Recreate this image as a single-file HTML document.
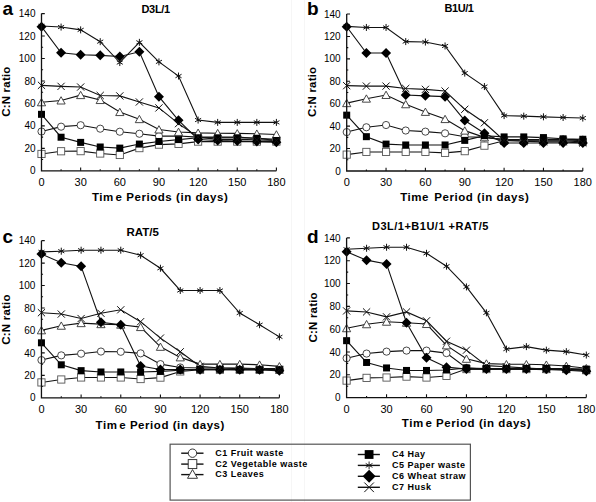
<!DOCTYPE html>
<html><head><meta charset="utf-8"><style>
html,body{margin:0;padding:0;background:#fff;}
svg{display:block;}
text{font-family:"Liberation Sans", sans-serif;fill:#000;}
svg{}
</style></head><body>
<svg width="596" height="502" viewBox="0 0 596 502">
<rect width="596" height="502" fill="#fff"/>
<path d="M291.5,0V502M304.5,0V502" stroke="#f6f6f6" stroke-width="1"/>
<path d="M41.50,159.57h1.6M41.50,148.34h3.3M41.50,137.11h1.6M41.50,125.89h3.3M41.50,114.66h1.6M41.50,103.43h3.3M41.50,92.20h1.6M41.50,80.97h3.3M41.50,69.74h1.6M41.50,58.51h3.3M41.50,47.29h1.6M41.50,36.06h3.3M41.50,24.83h1.6M41.50,13.60h3.3M61.08,170.80v-1.6M80.65,170.80v-3.3M100.22,170.80v-1.6M119.80,170.80v-3.3M139.38,170.80v-1.6M158.95,170.80v-3.3M178.53,170.80v-1.6M198.10,170.80v-3.3M217.67,170.80v-1.6M237.25,170.80v-3.3M256.82,170.80v-1.6M276.40,170.80v-3.3" stroke="#111" stroke-width="1.1" fill="none"/>
<text x="35.50" y="174.40" font-size="10" text-anchor="end">0</text>
<text x="35.50" y="151.94" font-size="10" text-anchor="end">20</text>
<text x="35.50" y="129.49" font-size="10" text-anchor="end">40</text>
<text x="35.50" y="107.03" font-size="10" text-anchor="end">60</text>
<text x="35.50" y="84.57" font-size="10" text-anchor="end">80</text>
<text x="35.50" y="62.11" font-size="10" text-anchor="end">100</text>
<text x="35.50" y="39.66" font-size="10" text-anchor="end">120</text>
<text x="35.50" y="17.20" font-size="10" text-anchor="end">140</text>
<text x="41.50" y="186.10" font-size="11" text-anchor="middle">0</text>
<text x="80.65" y="186.10" font-size="11" text-anchor="middle">30</text>
<text x="119.80" y="186.10" font-size="11" text-anchor="middle">60</text>
<text x="158.95" y="186.10" font-size="11" text-anchor="middle">90</text>
<text x="198.10" y="186.10" font-size="11" text-anchor="middle">120</text>
<text x="237.25" y="186.10" font-size="11" text-anchor="middle">150</text>
<text x="276.40" y="186.10" font-size="11" text-anchor="middle">180</text>
<text x="2.40" y="15.10" font-size="19" font-weight="bold">a</text>
<text x="155.70" y="12.60" font-size="11" font-weight="bold" text-anchor="middle" letter-spacing="-0.3">D3L/1</text>
<text transform="translate(10.00,91.65) rotate(-90)" font-size="11.5" font-weight="bold" text-anchor="middle" letter-spacing="0.2">C:N ratio</text>
<text x="92.00" y="201.40" font-size="11.5" font-weight="bold" letter-spacing="0.55">Tim<tspan dx="1.7">e Periods (in days)</tspan></text>
<polyline points="41.50,131.50 61.08,126.67 80.65,125.21 100.22,128.69 119.80,131.72 139.38,133.75 158.95,136.10 178.53,135.99 198.10,137.11 217.67,137.11 237.25,137.11 256.82,138.24 276.40,139.36" stroke="#111" stroke-width="1.1" fill="none"/>
<polyline points="41.50,153.96 61.08,151.26 80.65,151.15 100.22,153.51 119.80,154.97 139.38,148.12 158.95,144.64 178.53,143.85 198.10,141.61 217.67,141.61 237.25,141.61 256.82,141.61 276.40,141.61" stroke="#111" stroke-width="1.1" fill="none"/>
<polyline points="41.50,102.31 61.08,100.51 80.65,95.12 100.22,100.06 119.80,112.07 139.38,119.15 158.95,129.48 178.53,131.95 198.10,132.85 217.67,133.18 237.25,133.41 256.82,133.75 276.40,134.53" stroke="#111" stroke-width="1.1" fill="none"/>
<polyline points="41.50,114.32 61.08,137.23 80.65,142.39 100.22,147.00 119.80,148.12 139.38,144.08 158.95,141.49 178.53,139.58 198.10,137.79 217.67,137.79 237.25,137.79 256.82,138.24 276.40,140.48" stroke="#111" stroke-width="1.1" fill="none"/>
<polyline points="41.50,25.95 61.08,27.07 80.65,29.88 100.22,41.67 119.80,62.56 139.38,42.35 158.95,61.88 178.53,76.03 198.10,120.05 217.67,122.40 237.25,122.40 256.82,122.40 276.40,122.40" stroke="#111" stroke-width="1.1" fill="none"/>
<polyline points="41.50,26.63 61.08,52.79 80.65,54.81 100.22,55.37 119.80,56.49 139.38,51.78 158.95,96.69 178.53,120.27 198.10,139.47 217.67,140.48 237.25,141.04 256.82,141.61 276.40,142.17" stroke="#111" stroke-width="1.1" fill="none"/>
<polyline points="41.50,85.35 61.08,86.36 80.65,87.03 100.22,95.46 119.80,95.91 139.38,101.97 158.95,107.92 178.53,123.64 198.10,137.11 217.67,139.36 237.25,139.36 256.82,139.92 276.40,140.48" stroke="#111" stroke-width="1.1" fill="none"/>
<circle cx="41.50" cy="131.50" r="3.6" fill="#fff" stroke="#333" stroke-width="0.9"/>
<circle cx="61.08" cy="126.67" r="3.6" fill="#fff" stroke="#333" stroke-width="0.9"/>
<circle cx="80.65" cy="125.21" r="3.6" fill="#fff" stroke="#333" stroke-width="0.9"/>
<circle cx="100.22" cy="128.69" r="3.6" fill="#fff" stroke="#333" stroke-width="0.9"/>
<circle cx="119.80" cy="131.72" r="3.6" fill="#fff" stroke="#333" stroke-width="0.9"/>
<circle cx="139.38" cy="133.75" r="3.6" fill="#fff" stroke="#333" stroke-width="0.9"/>
<circle cx="158.95" cy="136.10" r="3.6" fill="#fff" stroke="#333" stroke-width="0.9"/>
<circle cx="178.53" cy="135.99" r="3.6" fill="#fff" stroke="#333" stroke-width="0.9"/>
<circle cx="198.10" cy="137.11" r="3.6" fill="#fff" stroke="#333" stroke-width="0.9"/>
<circle cx="217.67" cy="137.11" r="3.6" fill="#fff" stroke="#333" stroke-width="0.9"/>
<circle cx="237.25" cy="137.11" r="3.6" fill="#fff" stroke="#333" stroke-width="0.9"/>
<circle cx="256.82" cy="138.24" r="3.6" fill="#fff" stroke="#333" stroke-width="0.9"/>
<circle cx="276.40" cy="139.36" r="3.6" fill="#fff" stroke="#333" stroke-width="0.9"/>
<rect x="37.90" y="150.36" width="7.20" height="7.20" fill="#fff" stroke="#555" stroke-width="0.9"/>
<rect x="57.48" y="147.66" width="7.20" height="7.20" fill="#fff" stroke="#555" stroke-width="0.9"/>
<rect x="77.05" y="147.55" width="7.20" height="7.20" fill="#fff" stroke="#555" stroke-width="0.9"/>
<rect x="96.62" y="149.91" width="7.20" height="7.20" fill="#fff" stroke="#555" stroke-width="0.9"/>
<rect x="116.20" y="151.37" width="7.20" height="7.20" fill="#fff" stroke="#555" stroke-width="0.9"/>
<rect x="135.78" y="144.52" width="7.20" height="7.20" fill="#fff" stroke="#555" stroke-width="0.9"/>
<rect x="155.35" y="141.04" width="7.20" height="7.20" fill="#fff" stroke="#555" stroke-width="0.9"/>
<rect x="174.93" y="140.25" width="7.20" height="7.20" fill="#fff" stroke="#555" stroke-width="0.9"/>
<rect x="194.50" y="138.01" width="7.20" height="7.20" fill="#fff" stroke="#555" stroke-width="0.9"/>
<rect x="214.07" y="138.01" width="7.20" height="7.20" fill="#fff" stroke="#555" stroke-width="0.9"/>
<rect x="233.65" y="138.01" width="7.20" height="7.20" fill="#fff" stroke="#555" stroke-width="0.9"/>
<rect x="253.22" y="138.01" width="7.20" height="7.20" fill="#fff" stroke="#555" stroke-width="0.9"/>
<rect x="272.80" y="138.01" width="7.20" height="7.20" fill="#fff" stroke="#555" stroke-width="0.9"/>
<path d="M41.50,98.51 L45.60,105.81 L37.40,105.81 Z" fill="#fff" stroke="#333" stroke-width="0.9"/>
<path d="M61.08,96.71 L65.17,104.01 L56.98,104.01 Z" fill="#fff" stroke="#333" stroke-width="0.9"/>
<path d="M80.65,91.32 L84.75,98.62 L76.55,98.62 Z" fill="#fff" stroke="#333" stroke-width="0.9"/>
<path d="M100.22,96.26 L104.32,103.56 L96.12,103.56 Z" fill="#fff" stroke="#333" stroke-width="0.9"/>
<path d="M119.80,108.27 L123.90,115.57 L115.70,115.57 Z" fill="#fff" stroke="#333" stroke-width="0.9"/>
<path d="M139.38,115.35 L143.47,122.65 L135.28,122.65 Z" fill="#fff" stroke="#333" stroke-width="0.9"/>
<path d="M158.95,125.68 L163.05,132.98 L154.85,132.98 Z" fill="#fff" stroke="#333" stroke-width="0.9"/>
<path d="M178.53,128.15 L182.62,135.45 L174.43,135.45 Z" fill="#fff" stroke="#333" stroke-width="0.9"/>
<path d="M198.10,129.05 L202.20,136.35 L194.00,136.35 Z" fill="#fff" stroke="#333" stroke-width="0.9"/>
<path d="M217.67,129.38 L221.77,136.68 L213.57,136.68 Z" fill="#fff" stroke="#333" stroke-width="0.9"/>
<path d="M237.25,129.61 L241.35,136.91 L233.15,136.91 Z" fill="#fff" stroke="#333" stroke-width="0.9"/>
<path d="M256.82,129.95 L260.93,137.25 L252.72,137.25 Z" fill="#fff" stroke="#333" stroke-width="0.9"/>
<path d="M276.40,130.73 L280.50,138.03 L272.30,138.03 Z" fill="#fff" stroke="#333" stroke-width="0.9"/>
<rect x="38.00" y="110.82" width="7.00" height="7.00" fill="#000"/>
<rect x="57.58" y="133.73" width="7.00" height="7.00" fill="#000"/>
<rect x="77.15" y="138.89" width="7.00" height="7.00" fill="#000"/>
<rect x="96.72" y="143.50" width="7.00" height="7.00" fill="#000"/>
<rect x="116.30" y="144.62" width="7.00" height="7.00" fill="#000"/>
<rect x="135.88" y="140.58" width="7.00" height="7.00" fill="#000"/>
<rect x="155.45" y="137.99" width="7.00" height="7.00" fill="#000"/>
<rect x="175.03" y="136.08" width="7.00" height="7.00" fill="#000"/>
<rect x="194.60" y="134.29" width="7.00" height="7.00" fill="#000"/>
<rect x="214.17" y="134.29" width="7.00" height="7.00" fill="#000"/>
<rect x="233.75" y="134.29" width="7.00" height="7.00" fill="#000"/>
<rect x="253.32" y="134.74" width="7.00" height="7.00" fill="#000"/>
<rect x="272.90" y="136.98" width="7.00" height="7.00" fill="#000"/>
<path d="M41.50,22.45V29.45M38.47,24.20L44.53,27.70M38.47,27.70L44.53,24.20" stroke="#111" stroke-width="1" fill="none"/>
<path d="M61.08,23.57V30.57M58.04,25.32L64.11,28.82M58.04,28.82L64.11,25.32" stroke="#111" stroke-width="1" fill="none"/>
<path d="M80.65,26.38V33.38M77.62,28.13L83.68,31.63M77.62,31.63L83.68,28.13" stroke="#111" stroke-width="1" fill="none"/>
<path d="M100.22,38.17V45.17M97.19,39.92L103.26,43.42M97.19,43.42L103.26,39.92" stroke="#111" stroke-width="1" fill="none"/>
<path d="M119.80,59.06V66.06M116.77,60.81L122.83,64.31M116.77,64.31L122.83,60.81" stroke="#111" stroke-width="1" fill="none"/>
<path d="M139.38,38.85V45.85M136.34,40.60L142.41,44.10M136.34,44.10L142.41,40.60" stroke="#111" stroke-width="1" fill="none"/>
<path d="M158.95,58.38V65.38M155.92,60.13L161.98,63.63M155.92,63.63L161.98,60.13" stroke="#111" stroke-width="1" fill="none"/>
<path d="M178.53,72.53V79.53M175.49,74.28L181.56,77.78M175.49,77.78L181.56,74.28" stroke="#111" stroke-width="1" fill="none"/>
<path d="M198.10,116.55V123.55M195.07,118.30L201.13,121.80M195.07,121.80L201.13,118.30" stroke="#111" stroke-width="1" fill="none"/>
<path d="M217.67,118.90V125.90M214.64,120.65L220.71,124.15M214.64,124.15L220.71,120.65" stroke="#111" stroke-width="1" fill="none"/>
<path d="M237.25,118.90V125.90M234.22,120.65L240.28,124.15M234.22,124.15L240.28,120.65" stroke="#111" stroke-width="1" fill="none"/>
<path d="M256.82,118.90V125.90M253.79,120.65L259.86,124.15M253.79,124.15L259.86,120.65" stroke="#111" stroke-width="1" fill="none"/>
<path d="M276.40,118.90V125.90M273.37,120.65L279.43,124.15M273.37,124.15L279.43,120.65" stroke="#111" stroke-width="1" fill="none"/>
<path d="M41.50,21.63L46.50,26.63L41.50,31.63L36.50,26.63Z" fill="#000"/>
<path d="M61.08,47.79L66.08,52.79L61.08,57.79L56.08,52.79Z" fill="#000"/>
<path d="M80.65,49.81L85.65,54.81L80.65,59.81L75.65,54.81Z" fill="#000"/>
<path d="M100.22,50.37L105.22,55.37L100.22,60.37L95.22,55.37Z" fill="#000"/>
<path d="M119.80,51.49L124.80,56.49L119.80,61.49L114.80,56.49Z" fill="#000"/>
<path d="M139.38,46.78L144.38,51.78L139.38,56.78L134.38,51.78Z" fill="#000"/>
<path d="M158.95,91.69L163.95,96.69L158.95,101.69L153.95,96.69Z" fill="#000"/>
<path d="M178.53,115.27L183.53,120.27L178.53,125.27L173.53,120.27Z" fill="#000"/>
<path d="M198.10,134.47L203.10,139.47L198.10,144.47L193.10,139.47Z" fill="#000"/>
<path d="M217.67,135.48L222.67,140.48L217.67,145.48L212.67,140.48Z" fill="#000"/>
<path d="M237.25,136.04L242.25,141.04L237.25,146.04L232.25,141.04Z" fill="#000"/>
<path d="M256.82,136.61L261.82,141.61L256.82,146.61L251.82,141.61Z" fill="#000"/>
<path d="M276.40,137.17L281.40,142.17L276.40,147.17L271.40,142.17Z" fill="#000"/>
<path d="M37.90,81.75L45.10,88.95M37.90,88.95L45.10,81.75" stroke="#111" stroke-width="1" fill="none"/>
<path d="M57.48,82.76L64.67,89.96M57.48,89.96L64.67,82.76" stroke="#111" stroke-width="1" fill="none"/>
<path d="M77.05,83.43L84.25,90.63M77.05,90.63L84.25,83.43" stroke="#111" stroke-width="1" fill="none"/>
<path d="M96.62,91.86L103.82,99.06M96.62,99.06L103.82,91.86" stroke="#111" stroke-width="1" fill="none"/>
<path d="M116.20,92.31L123.40,99.51M116.20,99.51L123.40,92.31" stroke="#111" stroke-width="1" fill="none"/>
<path d="M135.78,98.37L142.97,105.57M135.78,105.57L142.97,98.37" stroke="#111" stroke-width="1" fill="none"/>
<path d="M155.35,104.32L162.55,111.52M155.35,111.52L162.55,104.32" stroke="#111" stroke-width="1" fill="none"/>
<path d="M174.93,120.04L182.12,127.24M174.93,127.24L182.12,120.04" stroke="#111" stroke-width="1" fill="none"/>
<path d="M194.50,133.51L201.70,140.71M194.50,140.71L201.70,133.51" stroke="#111" stroke-width="1" fill="none"/>
<path d="M214.07,135.76L221.27,142.96M214.07,142.96L221.27,135.76" stroke="#111" stroke-width="1" fill="none"/>
<path d="M233.65,135.76L240.85,142.96M233.65,142.96L240.85,135.76" stroke="#111" stroke-width="1" fill="none"/>
<path d="M253.22,136.32L260.43,143.52M253.22,143.52L260.43,136.32" stroke="#111" stroke-width="1" fill="none"/>
<path d="M272.80,136.88L280.00,144.08M272.80,144.08L280.00,136.88" stroke="#111" stroke-width="1" fill="none"/>
<path d="M41.50,13.60V170.80H276.40" stroke="#111" stroke-width="1.3" fill="none"/>
<path d="M346.70,159.79h1.6M346.70,148.57h3.3M346.70,137.36h1.6M346.70,126.14h3.3M346.70,114.93h1.6M346.70,103.71h3.3M346.70,92.50h1.6M346.70,81.29h3.3M346.70,70.07h1.6M346.70,58.86h3.3M346.70,47.64h1.6M346.70,36.43h3.3M346.70,25.21h1.6M346.70,14.00h3.3M366.38,171.00v-1.6M386.05,171.00v-3.3M405.72,171.00v-1.6M425.40,171.00v-3.3M445.07,171.00v-1.6M464.75,171.00v-3.3M484.42,171.00v-1.6M504.10,171.00v-3.3M523.77,171.00v-1.6M543.45,171.00v-3.3M563.12,171.00v-1.6M582.80,171.00v-3.3" stroke="#111" stroke-width="1.1" fill="none"/>
<text x="340.70" y="174.60" font-size="10" text-anchor="end">0</text>
<text x="340.70" y="152.17" font-size="10" text-anchor="end">20</text>
<text x="340.70" y="129.74" font-size="10" text-anchor="end">40</text>
<text x="340.70" y="107.31" font-size="10" text-anchor="end">60</text>
<text x="340.70" y="84.89" font-size="10" text-anchor="end">80</text>
<text x="340.70" y="62.46" font-size="10" text-anchor="end">100</text>
<text x="340.70" y="40.03" font-size="10" text-anchor="end">120</text>
<text x="340.70" y="17.60" font-size="10" text-anchor="end">140</text>
<text x="346.70" y="186.30" font-size="11" text-anchor="middle">0</text>
<text x="386.05" y="186.30" font-size="11" text-anchor="middle">30</text>
<text x="425.40" y="186.30" font-size="11" text-anchor="middle">60</text>
<text x="464.75" y="186.30" font-size="11" text-anchor="middle">90</text>
<text x="504.10" y="186.30" font-size="11" text-anchor="middle">120</text>
<text x="543.45" y="186.30" font-size="11" text-anchor="middle">150</text>
<text x="582.80" y="186.30" font-size="11" text-anchor="middle">180</text>
<text x="307.00" y="14.90" font-size="19" font-weight="bold">b</text>
<text x="459.00" y="11.60" font-size="11" font-weight="bold" text-anchor="middle" letter-spacing="-0.4">B1U/1</text>
<text transform="translate(315.60,91.85) rotate(-90)" font-size="11.5" font-weight="bold" text-anchor="middle" letter-spacing="0.2">C:N ratio</text>
<text x="400.20" y="201.40" font-size="11.5" font-weight="bold" letter-spacing="0.55">Time<tspan dx="5.2">Period (in days)</tspan></text>
<polyline points="346.70,132.09 366.38,127.26 386.05,125.02 405.72,130.52 425.40,131.64 445.07,133.32 464.75,136.68 484.42,137.36 504.10,139.60 523.77,139.60 543.45,139.60 563.12,139.60 582.80,140.72" stroke="#111" stroke-width="1.1" fill="none"/>
<polyline points="346.70,154.63 366.38,151.94 386.05,151.94 405.72,151.94 425.40,151.94 445.07,152.83 464.75,151.15 484.42,145.66 504.10,140.72 523.77,140.72 543.45,140.72 563.12,140.72 582.80,141.84" stroke="#111" stroke-width="1.1" fill="none"/>
<polyline points="346.70,103.15 366.38,98.67 386.05,94.97 405.72,104.28 425.40,111.90 445.07,119.08 464.75,130.63 484.42,137.36 504.10,139.60 523.77,139.60 543.45,139.60 563.12,139.60 582.80,139.60" stroke="#111" stroke-width="1.1" fill="none"/>
<polyline points="346.70,115.15 366.38,136.68 386.05,144.09 405.72,144.98 425.40,144.98 445.07,144.98 464.75,140.38 484.42,135.68 504.10,136.91 523.77,136.91 543.45,137.58 563.12,138.81 582.80,139.26" stroke="#111" stroke-width="1.1" fill="none"/>
<polyline points="346.70,26.34 366.38,27.46 386.05,27.46 405.72,41.59 425.40,42.04 445.07,45.96 464.75,73.10 484.42,86.56 504.10,115.60 523.77,116.16 543.45,116.84 563.12,117.51 582.80,118.07" stroke="#111" stroke-width="1.1" fill="none"/>
<polyline points="346.70,26.78 366.38,53.03 386.05,53.03 405.72,94.97 425.40,95.86 445.07,96.65 464.75,120.54 484.42,133.32 504.10,142.96 523.77,142.96 543.45,142.96 563.12,142.96 582.80,142.96" stroke="#111" stroke-width="1.1" fill="none"/>
<polyline points="346.70,85.66 366.38,86.11 386.05,86.11 405.72,88.46 425.40,89.36 445.07,91.04 464.75,109.32 484.42,122.78 504.10,140.38 523.77,141.28 543.45,141.84 563.12,141.84 582.80,142.96" stroke="#111" stroke-width="1.1" fill="none"/>
<circle cx="346.70" cy="132.09" r="3.6" fill="#fff" stroke="#333" stroke-width="0.9"/>
<circle cx="366.38" cy="127.26" r="3.6" fill="#fff" stroke="#333" stroke-width="0.9"/>
<circle cx="386.05" cy="125.02" r="3.6" fill="#fff" stroke="#333" stroke-width="0.9"/>
<circle cx="405.72" cy="130.52" r="3.6" fill="#fff" stroke="#333" stroke-width="0.9"/>
<circle cx="425.40" cy="131.64" r="3.6" fill="#fff" stroke="#333" stroke-width="0.9"/>
<circle cx="445.07" cy="133.32" r="3.6" fill="#fff" stroke="#333" stroke-width="0.9"/>
<circle cx="464.75" cy="136.68" r="3.6" fill="#fff" stroke="#333" stroke-width="0.9"/>
<circle cx="484.42" cy="137.36" r="3.6" fill="#fff" stroke="#333" stroke-width="0.9"/>
<circle cx="504.10" cy="139.60" r="3.6" fill="#fff" stroke="#333" stroke-width="0.9"/>
<circle cx="523.77" cy="139.60" r="3.6" fill="#fff" stroke="#333" stroke-width="0.9"/>
<circle cx="543.45" cy="139.60" r="3.6" fill="#fff" stroke="#333" stroke-width="0.9"/>
<circle cx="563.12" cy="139.60" r="3.6" fill="#fff" stroke="#333" stroke-width="0.9"/>
<circle cx="582.80" cy="140.72" r="3.6" fill="#fff" stroke="#333" stroke-width="0.9"/>
<rect x="343.10" y="151.03" width="7.20" height="7.20" fill="#fff" stroke="#555" stroke-width="0.9"/>
<rect x="362.77" y="148.34" width="7.20" height="7.20" fill="#fff" stroke="#555" stroke-width="0.9"/>
<rect x="382.45" y="148.34" width="7.20" height="7.20" fill="#fff" stroke="#555" stroke-width="0.9"/>
<rect x="402.12" y="148.34" width="7.20" height="7.20" fill="#fff" stroke="#555" stroke-width="0.9"/>
<rect x="421.80" y="148.34" width="7.20" height="7.20" fill="#fff" stroke="#555" stroke-width="0.9"/>
<rect x="441.47" y="149.23" width="7.20" height="7.20" fill="#fff" stroke="#555" stroke-width="0.9"/>
<rect x="461.15" y="147.55" width="7.20" height="7.20" fill="#fff" stroke="#555" stroke-width="0.9"/>
<rect x="480.82" y="142.06" width="7.20" height="7.20" fill="#fff" stroke="#555" stroke-width="0.9"/>
<rect x="500.50" y="137.12" width="7.20" height="7.20" fill="#fff" stroke="#555" stroke-width="0.9"/>
<rect x="520.17" y="137.12" width="7.20" height="7.20" fill="#fff" stroke="#555" stroke-width="0.9"/>
<rect x="539.85" y="137.12" width="7.20" height="7.20" fill="#fff" stroke="#555" stroke-width="0.9"/>
<rect x="559.52" y="137.12" width="7.20" height="7.20" fill="#fff" stroke="#555" stroke-width="0.9"/>
<rect x="579.20" y="138.24" width="7.20" height="7.20" fill="#fff" stroke="#555" stroke-width="0.9"/>
<path d="M346.70,99.35 L350.80,106.65 L342.60,106.65 Z" fill="#fff" stroke="#333" stroke-width="0.9"/>
<path d="M366.38,94.87 L370.48,102.17 L362.27,102.17 Z" fill="#fff" stroke="#333" stroke-width="0.9"/>
<path d="M386.05,91.17 L390.15,98.47 L381.95,98.47 Z" fill="#fff" stroke="#333" stroke-width="0.9"/>
<path d="M405.72,100.48 L409.82,107.78 L401.62,107.78 Z" fill="#fff" stroke="#333" stroke-width="0.9"/>
<path d="M425.40,108.10 L429.50,115.40 L421.30,115.40 Z" fill="#fff" stroke="#333" stroke-width="0.9"/>
<path d="M445.07,115.28 L449.18,122.58 L440.97,122.58 Z" fill="#fff" stroke="#333" stroke-width="0.9"/>
<path d="M464.75,126.83 L468.85,134.13 L460.65,134.13 Z" fill="#fff" stroke="#333" stroke-width="0.9"/>
<path d="M484.42,133.56 L488.52,140.86 L480.32,140.86 Z" fill="#fff" stroke="#333" stroke-width="0.9"/>
<path d="M504.10,135.80 L508.20,143.10 L500.00,143.10 Z" fill="#fff" stroke="#333" stroke-width="0.9"/>
<path d="M523.77,135.80 L527.88,143.10 L519.67,143.10 Z" fill="#fff" stroke="#333" stroke-width="0.9"/>
<path d="M543.45,135.80 L547.55,143.10 L539.35,143.10 Z" fill="#fff" stroke="#333" stroke-width="0.9"/>
<path d="M563.12,135.80 L567.23,143.10 L559.02,143.10 Z" fill="#fff" stroke="#333" stroke-width="0.9"/>
<path d="M582.80,135.80 L586.90,143.10 L578.70,143.10 Z" fill="#fff" stroke="#333" stroke-width="0.9"/>
<rect x="343.20" y="111.65" width="7.00" height="7.00" fill="#000"/>
<rect x="362.88" y="133.18" width="7.00" height="7.00" fill="#000"/>
<rect x="382.55" y="140.59" width="7.00" height="7.00" fill="#000"/>
<rect x="402.22" y="141.48" width="7.00" height="7.00" fill="#000"/>
<rect x="421.90" y="141.48" width="7.00" height="7.00" fill="#000"/>
<rect x="441.57" y="141.48" width="7.00" height="7.00" fill="#000"/>
<rect x="461.25" y="136.88" width="7.00" height="7.00" fill="#000"/>
<rect x="480.92" y="132.18" width="7.00" height="7.00" fill="#000"/>
<rect x="500.60" y="133.41" width="7.00" height="7.00" fill="#000"/>
<rect x="520.27" y="133.41" width="7.00" height="7.00" fill="#000"/>
<rect x="539.95" y="134.08" width="7.00" height="7.00" fill="#000"/>
<rect x="559.62" y="135.31" width="7.00" height="7.00" fill="#000"/>
<rect x="579.30" y="135.76" width="7.00" height="7.00" fill="#000"/>
<path d="M346.70,22.84V29.84M343.67,24.59L349.73,28.09M343.67,28.09L349.73,24.59" stroke="#111" stroke-width="1" fill="none"/>
<path d="M366.38,23.96V30.96M363.34,25.71L369.41,29.21M363.34,29.21L369.41,25.71" stroke="#111" stroke-width="1" fill="none"/>
<path d="M386.05,23.96V30.96M383.02,25.71L389.08,29.21M383.02,29.21L389.08,25.71" stroke="#111" stroke-width="1" fill="none"/>
<path d="M405.72,38.09V45.09M402.69,39.84L408.76,43.34M402.69,43.34L408.76,39.84" stroke="#111" stroke-width="1" fill="none"/>
<path d="M425.40,38.54V45.54M422.37,40.29L428.43,43.79M422.37,43.79L428.43,40.29" stroke="#111" stroke-width="1" fill="none"/>
<path d="M445.07,42.46V49.46M442.04,44.21L448.11,47.71M442.04,47.71L448.11,44.21" stroke="#111" stroke-width="1" fill="none"/>
<path d="M464.75,69.60V76.60M461.72,71.35L467.78,74.85M461.72,74.85L467.78,71.35" stroke="#111" stroke-width="1" fill="none"/>
<path d="M484.42,83.06V90.06M481.39,84.81L487.46,88.31M481.39,88.31L487.46,84.81" stroke="#111" stroke-width="1" fill="none"/>
<path d="M504.10,112.10V119.10M501.07,113.85L507.13,117.35M501.07,117.35L507.13,113.85" stroke="#111" stroke-width="1" fill="none"/>
<path d="M523.77,112.66V119.66M520.74,114.41L526.81,117.91M520.74,117.91L526.81,114.41" stroke="#111" stroke-width="1" fill="none"/>
<path d="M543.45,113.34V120.34M540.42,115.09L546.48,118.59M540.42,118.59L546.48,115.09" stroke="#111" stroke-width="1" fill="none"/>
<path d="M563.12,114.01V121.01M560.09,115.76L566.16,119.26M560.09,119.26L566.16,115.76" stroke="#111" stroke-width="1" fill="none"/>
<path d="M582.80,114.57V121.57M579.77,116.32L585.83,119.82M579.77,119.82L585.83,116.32" stroke="#111" stroke-width="1" fill="none"/>
<path d="M346.70,21.78L351.70,26.78L346.70,31.78L341.70,26.78Z" fill="#000"/>
<path d="M366.38,48.03L371.38,53.03L366.38,58.03L361.38,53.03Z" fill="#000"/>
<path d="M386.05,48.03L391.05,53.03L386.05,58.03L381.05,53.03Z" fill="#000"/>
<path d="M405.72,89.97L410.72,94.97L405.72,99.97L400.72,94.97Z" fill="#000"/>
<path d="M425.40,90.86L430.40,95.86L425.40,100.86L420.40,95.86Z" fill="#000"/>
<path d="M445.07,91.65L450.07,96.65L445.07,101.65L440.07,96.65Z" fill="#000"/>
<path d="M464.75,115.54L469.75,120.54L464.75,125.54L459.75,120.54Z" fill="#000"/>
<path d="M484.42,128.32L489.42,133.32L484.42,138.32L479.42,133.32Z" fill="#000"/>
<path d="M504.10,137.96L509.10,142.96L504.10,147.96L499.10,142.96Z" fill="#000"/>
<path d="M523.77,137.96L528.77,142.96L523.77,147.96L518.77,142.96Z" fill="#000"/>
<path d="M543.45,137.96L548.45,142.96L543.45,147.96L538.45,142.96Z" fill="#000"/>
<path d="M563.12,137.96L568.12,142.96L563.12,147.96L558.12,142.96Z" fill="#000"/>
<path d="M582.80,137.96L587.80,142.96L582.80,147.96L577.80,142.96Z" fill="#000"/>
<path d="M343.10,82.06L350.30,89.26M343.10,89.26L350.30,82.06" stroke="#111" stroke-width="1" fill="none"/>
<path d="M362.77,82.51L369.98,89.71M362.77,89.71L369.98,82.51" stroke="#111" stroke-width="1" fill="none"/>
<path d="M382.45,82.51L389.65,89.71M382.45,89.71L389.65,82.51" stroke="#111" stroke-width="1" fill="none"/>
<path d="M402.12,84.86L409.32,92.06M402.12,92.06L409.32,84.86" stroke="#111" stroke-width="1" fill="none"/>
<path d="M421.80,85.76L429.00,92.96M421.80,92.96L429.00,85.76" stroke="#111" stroke-width="1" fill="none"/>
<path d="M441.47,87.44L448.68,94.64M441.47,94.64L448.68,87.44" stroke="#111" stroke-width="1" fill="none"/>
<path d="M461.15,105.72L468.35,112.92M461.15,112.92L468.35,105.72" stroke="#111" stroke-width="1" fill="none"/>
<path d="M480.82,119.18L488.02,126.38M480.82,126.38L488.02,119.18" stroke="#111" stroke-width="1" fill="none"/>
<path d="M500.50,136.78L507.70,143.98M500.50,143.98L507.70,136.78" stroke="#111" stroke-width="1" fill="none"/>
<path d="M520.17,137.68L527.38,144.88M520.17,144.88L527.38,137.68" stroke="#111" stroke-width="1" fill="none"/>
<path d="M539.85,138.24L547.05,145.44M539.85,145.44L547.05,138.24" stroke="#111" stroke-width="1" fill="none"/>
<path d="M559.52,138.24L566.73,145.44M559.52,145.44L566.73,138.24" stroke="#111" stroke-width="1" fill="none"/>
<path d="M579.20,139.36L586.40,146.56M579.20,146.56L586.40,139.36" stroke="#111" stroke-width="1" fill="none"/>
<path d="M346.70,14.00V171.00H582.80" stroke="#111" stroke-width="1.3" fill="none"/>
<path d="M41.45,386.57h1.6M41.45,375.35h3.3M41.45,364.12h1.6M41.45,352.90h3.3M41.45,341.68h1.6M41.45,330.45h3.3M41.45,319.23h1.6M41.45,308.00h3.3M41.45,296.77h1.6M41.45,285.55h3.3M41.45,274.32h1.6M41.45,263.10h3.3M41.45,251.88h1.6M41.45,240.65h3.3M61.28,397.80v-1.6M81.11,397.80v-3.3M100.94,397.80v-1.6M120.77,397.80v-3.3M140.60,397.80v-1.6M160.43,397.80v-3.3M180.25,397.80v-1.6M200.08,397.80v-3.3M219.91,397.80v-1.6M239.74,397.80v-3.3M259.57,397.80v-1.6M279.40,397.80v-3.3" stroke="#111" stroke-width="1.1" fill="none"/>
<text x="35.45" y="401.40" font-size="10" text-anchor="end">0</text>
<text x="35.45" y="378.95" font-size="10" text-anchor="end">20</text>
<text x="35.45" y="356.50" font-size="10" text-anchor="end">40</text>
<text x="35.45" y="334.05" font-size="10" text-anchor="end">60</text>
<text x="35.45" y="311.60" font-size="10" text-anchor="end">80</text>
<text x="35.45" y="289.15" font-size="10" text-anchor="end">100</text>
<text x="35.45" y="266.70" font-size="10" text-anchor="end">120</text>
<text x="35.45" y="244.25" font-size="10" text-anchor="end">140</text>
<text x="41.45" y="413.10" font-size="11" text-anchor="middle">0</text>
<text x="81.11" y="413.10" font-size="11" text-anchor="middle">30</text>
<text x="120.77" y="413.10" font-size="11" text-anchor="middle">60</text>
<text x="160.43" y="413.10" font-size="11" text-anchor="middle">90</text>
<text x="200.08" y="413.10" font-size="11" text-anchor="middle">120</text>
<text x="239.74" y="413.10" font-size="11" text-anchor="middle">150</text>
<text x="279.40" y="413.10" font-size="11" text-anchor="middle">180</text>
<text x="2.40" y="243.10" font-size="19" font-weight="bold">c</text>
<text x="142.70" y="235.60" font-size="11.5" font-weight="bold" text-anchor="middle" letter-spacing="0">RAT/5</text>
<text transform="translate(10.40,319.55) rotate(-90)" font-size="11.5" font-weight="bold" text-anchor="middle" letter-spacing="0.2">C:N ratio</text>
<text x="95.60" y="429.20" font-size="11.5" font-weight="bold" letter-spacing="0.55">Tim<tspan dx="1.7">e Period (in days)</tspan></text>
<polyline points="41.45,360.08 61.28,355.37 81.11,353.69 100.94,351.55 120.77,351.78 140.60,353.35 160.43,364.12 180.25,367.49 200.08,368.05 219.91,368.05 239.74,368.05 259.57,368.62 279.40,368.62" stroke="#111" stroke-width="1.1" fill="none"/>
<polyline points="41.45,382.42 61.28,379.50 81.11,377.48 100.94,377.48 120.77,377.48 140.60,379.05 160.43,377.60 180.25,371.42 200.08,369.74 219.91,369.74 239.74,369.74 259.57,369.74 279.40,369.74" stroke="#111" stroke-width="1.1" fill="none"/>
<polyline points="41.45,330.34 61.28,325.74 81.11,323.15 100.94,324.16 120.77,324.73 140.60,327.08 160.43,346.84 180.25,357.39 200.08,364.12 219.91,364.12 239.74,364.12 259.57,364.69 279.40,366.37" stroke="#111" stroke-width="1.1" fill="none"/>
<polyline points="41.45,342.80 61.28,364.80 81.11,370.64 100.94,371.98 120.77,371.98 140.60,371.98 160.43,371.42 180.25,370.30 200.08,369.29 219.91,369.29 239.74,369.74 259.57,369.74 279.40,369.74" stroke="#111" stroke-width="1.1" fill="none"/>
<polyline points="41.45,251.88 61.28,251.20 81.11,250.19 100.94,250.19 120.77,250.19 140.60,255.24 160.43,268.26 180.25,290.49 200.08,290.49 219.91,290.49 239.74,313.05 259.57,324.73 279.40,336.85" stroke="#111" stroke-width="1.1" fill="none"/>
<polyline points="41.45,254.12 61.28,262.76 81.11,266.36 100.94,322.26 120.77,324.73 140.60,366.03 160.43,369.51 180.25,369.51 200.08,369.74 219.91,369.74 239.74,369.74 259.57,369.74 279.40,370.86" stroke="#111" stroke-width="1.1" fill="none"/>
<polyline points="41.45,312.71 61.28,314.06 81.11,318.55 100.94,313.28 120.77,309.80 140.60,321.69 160.43,338.08 180.25,351.78 200.08,366.37 219.91,368.05 239.74,368.62 259.57,369.18 279.40,369.74" stroke="#111" stroke-width="1.1" fill="none"/>
<circle cx="41.45" cy="360.08" r="3.6" fill="#fff" stroke="#333" stroke-width="0.9"/>
<circle cx="61.28" cy="355.37" r="3.6" fill="#fff" stroke="#333" stroke-width="0.9"/>
<circle cx="81.11" cy="353.69" r="3.6" fill="#fff" stroke="#333" stroke-width="0.9"/>
<circle cx="100.94" cy="351.55" r="3.6" fill="#fff" stroke="#333" stroke-width="0.9"/>
<circle cx="120.77" cy="351.78" r="3.6" fill="#fff" stroke="#333" stroke-width="0.9"/>
<circle cx="140.60" cy="353.35" r="3.6" fill="#fff" stroke="#333" stroke-width="0.9"/>
<circle cx="160.43" cy="364.12" r="3.6" fill="#fff" stroke="#333" stroke-width="0.9"/>
<circle cx="180.25" cy="367.49" r="3.6" fill="#fff" stroke="#333" stroke-width="0.9"/>
<circle cx="200.08" cy="368.05" r="3.6" fill="#fff" stroke="#333" stroke-width="0.9"/>
<circle cx="219.91" cy="368.05" r="3.6" fill="#fff" stroke="#333" stroke-width="0.9"/>
<circle cx="239.74" cy="368.05" r="3.6" fill="#fff" stroke="#333" stroke-width="0.9"/>
<circle cx="259.57" cy="368.62" r="3.6" fill="#fff" stroke="#333" stroke-width="0.9"/>
<circle cx="279.40" cy="368.62" r="3.6" fill="#fff" stroke="#333" stroke-width="0.9"/>
<rect x="37.85" y="378.82" width="7.20" height="7.20" fill="#fff" stroke="#555" stroke-width="0.9"/>
<rect x="57.68" y="375.90" width="7.20" height="7.20" fill="#fff" stroke="#555" stroke-width="0.9"/>
<rect x="77.51" y="373.88" width="7.20" height="7.20" fill="#fff" stroke="#555" stroke-width="0.9"/>
<rect x="97.34" y="373.88" width="7.20" height="7.20" fill="#fff" stroke="#555" stroke-width="0.9"/>
<rect x="117.17" y="373.88" width="7.20" height="7.20" fill="#fff" stroke="#555" stroke-width="0.9"/>
<rect x="137.00" y="375.45" width="7.20" height="7.20" fill="#fff" stroke="#555" stroke-width="0.9"/>
<rect x="156.83" y="374.00" width="7.20" height="7.20" fill="#fff" stroke="#555" stroke-width="0.9"/>
<rect x="176.65" y="367.82" width="7.20" height="7.20" fill="#fff" stroke="#555" stroke-width="0.9"/>
<rect x="196.48" y="366.14" width="7.20" height="7.20" fill="#fff" stroke="#555" stroke-width="0.9"/>
<rect x="216.31" y="366.14" width="7.20" height="7.20" fill="#fff" stroke="#555" stroke-width="0.9"/>
<rect x="236.14" y="366.14" width="7.20" height="7.20" fill="#fff" stroke="#555" stroke-width="0.9"/>
<rect x="255.97" y="366.14" width="7.20" height="7.20" fill="#fff" stroke="#555" stroke-width="0.9"/>
<rect x="275.80" y="366.14" width="7.20" height="7.20" fill="#fff" stroke="#555" stroke-width="0.9"/>
<path d="M41.45,326.54 L45.55,333.84 L37.35,333.84 Z" fill="#fff" stroke="#333" stroke-width="0.9"/>
<path d="M61.28,321.94 L65.38,329.24 L57.18,329.24 Z" fill="#fff" stroke="#333" stroke-width="0.9"/>
<path d="M81.11,319.35 L85.21,326.65 L77.01,326.65 Z" fill="#fff" stroke="#333" stroke-width="0.9"/>
<path d="M100.94,320.36 L105.04,327.66 L96.84,327.66 Z" fill="#fff" stroke="#333" stroke-width="0.9"/>
<path d="M120.77,320.93 L124.87,328.23 L116.67,328.23 Z" fill="#fff" stroke="#333" stroke-width="0.9"/>
<path d="M140.60,323.28 L144.70,330.58 L136.50,330.58 Z" fill="#fff" stroke="#333" stroke-width="0.9"/>
<path d="M160.43,343.04 L164.53,350.34 L156.33,350.34 Z" fill="#fff" stroke="#333" stroke-width="0.9"/>
<path d="M180.25,353.59 L184.35,360.89 L176.15,360.89 Z" fill="#fff" stroke="#333" stroke-width="0.9"/>
<path d="M200.08,360.32 L204.18,367.62 L195.98,367.62 Z" fill="#fff" stroke="#333" stroke-width="0.9"/>
<path d="M219.91,360.32 L224.01,367.62 L215.81,367.62 Z" fill="#fff" stroke="#333" stroke-width="0.9"/>
<path d="M239.74,360.32 L243.84,367.62 L235.64,367.62 Z" fill="#fff" stroke="#333" stroke-width="0.9"/>
<path d="M259.57,360.89 L263.67,368.19 L255.47,368.19 Z" fill="#fff" stroke="#333" stroke-width="0.9"/>
<path d="M279.40,362.57 L283.50,369.87 L275.30,369.87 Z" fill="#fff" stroke="#333" stroke-width="0.9"/>
<rect x="37.95" y="339.30" width="7.00" height="7.00" fill="#000"/>
<rect x="57.78" y="361.30" width="7.00" height="7.00" fill="#000"/>
<rect x="77.61" y="367.14" width="7.00" height="7.00" fill="#000"/>
<rect x="97.44" y="368.48" width="7.00" height="7.00" fill="#000"/>
<rect x="117.27" y="368.48" width="7.00" height="7.00" fill="#000"/>
<rect x="137.10" y="368.48" width="7.00" height="7.00" fill="#000"/>
<rect x="156.93" y="367.92" width="7.00" height="7.00" fill="#000"/>
<rect x="176.75" y="366.80" width="7.00" height="7.00" fill="#000"/>
<rect x="196.58" y="365.79" width="7.00" height="7.00" fill="#000"/>
<rect x="216.41" y="365.79" width="7.00" height="7.00" fill="#000"/>
<rect x="236.24" y="366.24" width="7.00" height="7.00" fill="#000"/>
<rect x="256.07" y="366.24" width="7.00" height="7.00" fill="#000"/>
<rect x="275.90" y="366.24" width="7.00" height="7.00" fill="#000"/>
<path d="M41.45,248.38V255.38M38.42,250.12L44.48,253.62M38.42,253.62L44.48,250.12" stroke="#111" stroke-width="1" fill="none"/>
<path d="M61.28,247.70V254.70M58.25,249.45L64.31,252.95M58.25,252.95L64.31,249.45" stroke="#111" stroke-width="1" fill="none"/>
<path d="M81.11,246.69V253.69M78.08,248.44L84.14,251.94M78.08,251.94L84.14,248.44" stroke="#111" stroke-width="1" fill="none"/>
<path d="M100.94,246.69V253.69M97.91,248.44L103.97,251.94M97.91,251.94L103.97,248.44" stroke="#111" stroke-width="1" fill="none"/>
<path d="M120.77,246.69V253.69M117.74,248.44L123.80,251.94M117.74,251.94L123.80,248.44" stroke="#111" stroke-width="1" fill="none"/>
<path d="M140.60,251.74V258.74M137.56,253.49L143.63,256.99M137.56,256.99L143.63,253.49" stroke="#111" stroke-width="1" fill="none"/>
<path d="M160.43,264.76V271.76M157.39,266.51L163.46,270.01M157.39,270.01L163.46,266.51" stroke="#111" stroke-width="1" fill="none"/>
<path d="M180.25,286.99V293.99M177.22,288.74L183.29,292.24M177.22,292.24L183.29,288.74" stroke="#111" stroke-width="1" fill="none"/>
<path d="M200.08,286.99V293.99M197.05,288.74L203.11,292.24M197.05,292.24L203.11,288.74" stroke="#111" stroke-width="1" fill="none"/>
<path d="M219.91,286.99V293.99M216.88,288.74L222.94,292.24M216.88,292.24L222.94,288.74" stroke="#111" stroke-width="1" fill="none"/>
<path d="M239.74,309.55V316.55M236.71,311.30L242.77,314.80M236.71,314.80L242.77,311.30" stroke="#111" stroke-width="1" fill="none"/>
<path d="M259.57,321.23V328.23M256.54,322.98L262.60,326.48M256.54,326.48L262.60,322.98" stroke="#111" stroke-width="1" fill="none"/>
<path d="M279.40,333.35V340.35M276.37,335.10L282.43,338.60M276.37,338.60L282.43,335.10" stroke="#111" stroke-width="1" fill="none"/>
<path d="M41.45,249.12L46.45,254.12L41.45,259.12L36.45,254.12Z" fill="#000"/>
<path d="M61.28,257.76L66.28,262.76L61.28,267.76L56.28,262.76Z" fill="#000"/>
<path d="M81.11,261.36L86.11,266.36L81.11,271.36L76.11,266.36Z" fill="#000"/>
<path d="M100.94,317.26L105.94,322.26L100.94,327.26L95.94,322.26Z" fill="#000"/>
<path d="M120.77,319.73L125.77,324.73L120.77,329.73L115.77,324.73Z" fill="#000"/>
<path d="M140.60,361.03L145.60,366.03L140.60,371.03L135.60,366.03Z" fill="#000"/>
<path d="M160.43,364.51L165.43,369.51L160.43,374.51L155.43,369.51Z" fill="#000"/>
<path d="M180.25,364.51L185.25,369.51L180.25,374.51L175.25,369.51Z" fill="#000"/>
<path d="M200.08,364.74L205.08,369.74L200.08,374.74L195.08,369.74Z" fill="#000"/>
<path d="M219.91,364.74L224.91,369.74L219.91,374.74L214.91,369.74Z" fill="#000"/>
<path d="M239.74,364.74L244.74,369.74L239.74,374.74L234.74,369.74Z" fill="#000"/>
<path d="M259.57,364.74L264.57,369.74L259.57,374.74L254.57,369.74Z" fill="#000"/>
<path d="M279.40,365.86L284.40,370.86L279.40,375.86L274.40,370.86Z" fill="#000"/>
<path d="M37.85,309.11L45.05,316.31M37.85,316.31L45.05,309.11" stroke="#111" stroke-width="1" fill="none"/>
<path d="M57.68,310.46L64.88,317.66M57.68,317.66L64.88,310.46" stroke="#111" stroke-width="1" fill="none"/>
<path d="M77.51,314.95L84.71,322.15M77.51,322.15L84.71,314.95" stroke="#111" stroke-width="1" fill="none"/>
<path d="M97.34,309.68L104.54,316.88M97.34,316.88L104.54,309.68" stroke="#111" stroke-width="1" fill="none"/>
<path d="M117.17,306.20L124.37,313.40M117.17,313.40L124.37,306.20" stroke="#111" stroke-width="1" fill="none"/>
<path d="M137.00,318.09L144.20,325.29M137.00,325.29L144.20,318.09" stroke="#111" stroke-width="1" fill="none"/>
<path d="M156.83,334.48L164.03,341.68M156.83,341.68L164.03,334.48" stroke="#111" stroke-width="1" fill="none"/>
<path d="M176.65,348.18L183.85,355.38M176.65,355.38L183.85,348.18" stroke="#111" stroke-width="1" fill="none"/>
<path d="M196.48,362.77L203.68,369.97M196.48,369.97L203.68,362.77" stroke="#111" stroke-width="1" fill="none"/>
<path d="M216.31,364.45L223.51,371.65M216.31,371.65L223.51,364.45" stroke="#111" stroke-width="1" fill="none"/>
<path d="M236.14,365.01L243.34,372.22M236.14,372.22L243.34,365.01" stroke="#111" stroke-width="1" fill="none"/>
<path d="M255.97,365.58L263.17,372.78M255.97,372.78L263.17,365.58" stroke="#111" stroke-width="1" fill="none"/>
<path d="M275.80,366.14L283.00,373.34M275.80,373.34L283.00,366.14" stroke="#111" stroke-width="1" fill="none"/>
<path d="M41.45,240.65V397.80H279.40" stroke="#111" stroke-width="1.3" fill="none"/>
<path d="M346.60,386.19h1.6M346.60,374.79h3.3M346.60,363.38h1.6M346.60,351.97h3.3M346.60,340.56h1.6M346.60,329.16h3.3M346.60,317.75h1.6M346.60,306.34h3.3M346.60,294.94h1.6M346.60,283.53h3.3M346.60,272.12h1.6M346.60,260.71h3.3M346.60,249.31h1.6M346.60,237.90h3.3M366.58,397.60v-1.6M386.55,397.60v-3.3M406.52,397.60v-1.6M426.50,397.60v-3.3M446.48,397.60v-1.6M466.45,397.60v-3.3M486.42,397.60v-1.6M506.40,397.60v-3.3M526.38,397.60v-1.6M546.35,397.60v-3.3M566.32,397.60v-1.6M586.30,397.60v-3.3" stroke="#111" stroke-width="1.1" fill="none"/>
<text x="340.60" y="401.20" font-size="10" text-anchor="end">0</text>
<text x="340.60" y="378.39" font-size="10" text-anchor="end">20</text>
<text x="340.60" y="355.57" font-size="10" text-anchor="end">40</text>
<text x="340.60" y="332.76" font-size="10" text-anchor="end">60</text>
<text x="340.60" y="309.94" font-size="10" text-anchor="end">80</text>
<text x="340.60" y="287.13" font-size="10" text-anchor="end">100</text>
<text x="340.60" y="264.31" font-size="10" text-anchor="end">120</text>
<text x="340.60" y="241.50" font-size="10" text-anchor="end">140</text>
<text x="346.60" y="412.90" font-size="11" text-anchor="middle">0</text>
<text x="386.55" y="412.90" font-size="11" text-anchor="middle">30</text>
<text x="426.50" y="412.90" font-size="11" text-anchor="middle">60</text>
<text x="466.45" y="412.90" font-size="11" text-anchor="middle">90</text>
<text x="506.40" y="412.90" font-size="11" text-anchor="middle">120</text>
<text x="546.35" y="412.90" font-size="11" text-anchor="middle">150</text>
<text x="586.30" y="412.90" font-size="11" text-anchor="middle">180</text>
<text x="307.00" y="242.60" font-size="19" font-weight="bold">d</text>
<text x="430.50" y="229.80" font-size="11" font-weight="bold" text-anchor="middle" letter-spacing="0.5">D3L/1+B1U/1 +RAT/5</text>
<text transform="translate(316.80,317.35) rotate(-90)" font-size="11.5" font-weight="bold" text-anchor="middle" letter-spacing="0.2">C:N ratio</text>
<text x="401.80" y="426.60" font-size="11.5" font-weight="bold" letter-spacing="0.55">Tim<tspan dx="1.7">e Period (in days)</tspan></text>
<polyline points="346.60,358.25 366.58,353.57 386.55,351.63 406.52,350.60 426.50,350.60 446.48,353.11 466.45,367.94 486.42,369.08 506.40,369.08 526.38,369.08 546.35,369.65 566.32,369.65 586.30,370.22" stroke="#111" stroke-width="1.1" fill="none"/>
<polyline points="346.60,380.60 366.58,377.87 386.55,377.52 406.52,376.61 426.50,377.52 446.48,375.93 466.45,369.08 486.42,369.08 506.40,369.08 526.38,369.08 546.35,369.08 566.32,369.08 586.30,370.22" stroke="#111" stroke-width="1.1" fill="none"/>
<polyline points="346.60,328.24 366.58,324.25 386.55,321.74 406.52,322.77 426.50,324.02 446.48,345.36 466.45,358.82 486.42,363.61 506.40,364.29 526.38,364.29 546.35,364.75 566.32,366.00 586.30,368.28" stroke="#111" stroke-width="1.1" fill="none"/>
<polyline points="346.60,340.68 366.58,362.47 386.55,367.94 406.52,370.45 426.50,370.45 446.48,369.99 466.45,367.94 486.42,368.51 506.40,368.51 526.38,368.51 546.35,368.51 566.32,368.51 586.30,369.08" stroke="#111" stroke-width="1.1" fill="none"/>
<polyline points="346.60,249.31 366.58,248.28 386.55,247.25 406.52,247.25 426.50,253.30 446.48,266.19 466.45,286.95 486.42,312.84 506.40,349.12 526.38,346.61 546.35,350.15 566.32,351.63 586.30,355.05" stroke="#111" stroke-width="1.1" fill="none"/>
<polyline points="346.60,251.82 366.58,260.14 386.55,263.91 406.52,322.77 426.50,357.79 446.48,367.14 466.45,369.08 486.42,369.08 506.40,369.08 526.38,369.08 546.35,369.08 566.32,370.22 586.30,371.36" stroke="#111" stroke-width="1.1" fill="none"/>
<polyline points="346.60,310.91 366.58,311.93 386.55,316.84 406.52,311.93 426.50,320.83 446.48,341.25 466.45,350.15 486.42,365.66 506.40,366.80 526.38,367.94 546.35,369.08 566.32,369.08 586.30,370.22" stroke="#111" stroke-width="1.1" fill="none"/>
<circle cx="346.60" cy="358.25" r="3.6" fill="#fff" stroke="#333" stroke-width="0.9"/>
<circle cx="366.58" cy="353.57" r="3.6" fill="#fff" stroke="#333" stroke-width="0.9"/>
<circle cx="386.55" cy="351.63" r="3.6" fill="#fff" stroke="#333" stroke-width="0.9"/>
<circle cx="406.52" cy="350.60" r="3.6" fill="#fff" stroke="#333" stroke-width="0.9"/>
<circle cx="426.50" cy="350.60" r="3.6" fill="#fff" stroke="#333" stroke-width="0.9"/>
<circle cx="446.48" cy="353.11" r="3.6" fill="#fff" stroke="#333" stroke-width="0.9"/>
<circle cx="466.45" cy="367.94" r="3.6" fill="#fff" stroke="#333" stroke-width="0.9"/>
<circle cx="486.42" cy="369.08" r="3.6" fill="#fff" stroke="#333" stroke-width="0.9"/>
<circle cx="506.40" cy="369.08" r="3.6" fill="#fff" stroke="#333" stroke-width="0.9"/>
<circle cx="526.38" cy="369.08" r="3.6" fill="#fff" stroke="#333" stroke-width="0.9"/>
<circle cx="546.35" cy="369.65" r="3.6" fill="#fff" stroke="#333" stroke-width="0.9"/>
<circle cx="566.32" cy="369.65" r="3.6" fill="#fff" stroke="#333" stroke-width="0.9"/>
<circle cx="586.30" cy="370.22" r="3.6" fill="#fff" stroke="#333" stroke-width="0.9"/>
<rect x="343.00" y="377.00" width="7.20" height="7.20" fill="#fff" stroke="#555" stroke-width="0.9"/>
<rect x="362.98" y="374.27" width="7.20" height="7.20" fill="#fff" stroke="#555" stroke-width="0.9"/>
<rect x="382.95" y="373.92" width="7.20" height="7.20" fill="#fff" stroke="#555" stroke-width="0.9"/>
<rect x="402.92" y="373.01" width="7.20" height="7.20" fill="#fff" stroke="#555" stroke-width="0.9"/>
<rect x="422.90" y="373.92" width="7.20" height="7.20" fill="#fff" stroke="#555" stroke-width="0.9"/>
<rect x="442.88" y="372.33" width="7.20" height="7.20" fill="#fff" stroke="#555" stroke-width="0.9"/>
<rect x="462.85" y="365.48" width="7.20" height="7.20" fill="#fff" stroke="#555" stroke-width="0.9"/>
<rect x="482.82" y="365.48" width="7.20" height="7.20" fill="#fff" stroke="#555" stroke-width="0.9"/>
<rect x="502.80" y="365.48" width="7.20" height="7.20" fill="#fff" stroke="#555" stroke-width="0.9"/>
<rect x="522.77" y="365.48" width="7.20" height="7.20" fill="#fff" stroke="#555" stroke-width="0.9"/>
<rect x="542.75" y="365.48" width="7.20" height="7.20" fill="#fff" stroke="#555" stroke-width="0.9"/>
<rect x="562.72" y="365.48" width="7.20" height="7.20" fill="#fff" stroke="#555" stroke-width="0.9"/>
<rect x="582.70" y="366.62" width="7.20" height="7.20" fill="#fff" stroke="#555" stroke-width="0.9"/>
<path d="M346.60,324.44 L350.70,331.74 L342.50,331.74 Z" fill="#fff" stroke="#333" stroke-width="0.9"/>
<path d="M366.58,320.45 L370.68,327.75 L362.48,327.75 Z" fill="#fff" stroke="#333" stroke-width="0.9"/>
<path d="M386.55,317.94 L390.65,325.24 L382.45,325.24 Z" fill="#fff" stroke="#333" stroke-width="0.9"/>
<path d="M406.52,318.97 L410.62,326.27 L402.42,326.27 Z" fill="#fff" stroke="#333" stroke-width="0.9"/>
<path d="M426.50,320.22 L430.60,327.52 L422.40,327.52 Z" fill="#fff" stroke="#333" stroke-width="0.9"/>
<path d="M446.48,341.56 L450.58,348.86 L442.38,348.86 Z" fill="#fff" stroke="#333" stroke-width="0.9"/>
<path d="M466.45,355.02 L470.55,362.32 L462.35,362.32 Z" fill="#fff" stroke="#333" stroke-width="0.9"/>
<path d="M486.42,359.81 L490.52,367.11 L482.32,367.11 Z" fill="#fff" stroke="#333" stroke-width="0.9"/>
<path d="M506.40,360.49 L510.50,367.79 L502.30,367.79 Z" fill="#fff" stroke="#333" stroke-width="0.9"/>
<path d="M526.38,360.49 L530.48,367.79 L522.27,367.79 Z" fill="#fff" stroke="#333" stroke-width="0.9"/>
<path d="M546.35,360.95 L550.45,368.25 L542.25,368.25 Z" fill="#fff" stroke="#333" stroke-width="0.9"/>
<path d="M566.32,362.20 L570.42,369.50 L562.22,369.50 Z" fill="#fff" stroke="#333" stroke-width="0.9"/>
<path d="M586.30,364.48 L590.40,371.78 L582.20,371.78 Z" fill="#fff" stroke="#333" stroke-width="0.9"/>
<rect x="343.10" y="337.18" width="7.00" height="7.00" fill="#000"/>
<rect x="363.08" y="358.97" width="7.00" height="7.00" fill="#000"/>
<rect x="383.05" y="364.44" width="7.00" height="7.00" fill="#000"/>
<rect x="403.02" y="366.95" width="7.00" height="7.00" fill="#000"/>
<rect x="423.00" y="366.95" width="7.00" height="7.00" fill="#000"/>
<rect x="442.98" y="366.49" width="7.00" height="7.00" fill="#000"/>
<rect x="462.95" y="364.44" width="7.00" height="7.00" fill="#000"/>
<rect x="482.92" y="365.01" width="7.00" height="7.00" fill="#000"/>
<rect x="502.90" y="365.01" width="7.00" height="7.00" fill="#000"/>
<rect x="522.88" y="365.01" width="7.00" height="7.00" fill="#000"/>
<rect x="542.85" y="365.01" width="7.00" height="7.00" fill="#000"/>
<rect x="562.82" y="365.01" width="7.00" height="7.00" fill="#000"/>
<rect x="582.80" y="365.58" width="7.00" height="7.00" fill="#000"/>
<path d="M346.60,245.81V252.81M343.57,247.56L349.63,251.06M343.57,251.06L349.63,247.56" stroke="#111" stroke-width="1" fill="none"/>
<path d="M366.58,244.78V251.78M363.54,246.53L369.61,250.03M363.54,250.03L369.61,246.53" stroke="#111" stroke-width="1" fill="none"/>
<path d="M386.55,243.75V250.75M383.52,245.50L389.58,249.00M383.52,249.00L389.58,245.50" stroke="#111" stroke-width="1" fill="none"/>
<path d="M406.52,243.75V250.75M403.49,245.50L409.56,249.00M403.49,249.00L409.56,245.50" stroke="#111" stroke-width="1" fill="none"/>
<path d="M426.50,249.80V256.80M423.47,251.55L429.53,255.05M423.47,255.05L429.53,251.55" stroke="#111" stroke-width="1" fill="none"/>
<path d="M446.48,262.69V269.69M443.44,264.44L449.51,267.94M443.44,267.94L449.51,264.44" stroke="#111" stroke-width="1" fill="none"/>
<path d="M466.45,283.45V290.45M463.42,285.20L469.48,288.70M463.42,288.70L469.48,285.20" stroke="#111" stroke-width="1" fill="none"/>
<path d="M486.42,309.34V316.34M483.39,311.09L489.46,314.59M483.39,314.59L489.46,311.09" stroke="#111" stroke-width="1" fill="none"/>
<path d="M506.40,345.62V352.62M503.37,347.37L509.43,350.87M503.37,350.87L509.43,347.37" stroke="#111" stroke-width="1" fill="none"/>
<path d="M526.38,343.11V350.11M523.34,344.86L529.41,348.36M523.34,348.36L529.41,344.86" stroke="#111" stroke-width="1" fill="none"/>
<path d="M546.35,346.65V353.65M543.32,348.40L549.38,351.90M543.32,351.90L549.38,348.40" stroke="#111" stroke-width="1" fill="none"/>
<path d="M566.32,348.13V355.13M563.29,349.88L569.36,353.38M563.29,353.38L569.36,349.88" stroke="#111" stroke-width="1" fill="none"/>
<path d="M586.30,351.55V358.55M583.27,353.30L589.33,356.80M583.27,356.80L589.33,353.30" stroke="#111" stroke-width="1" fill="none"/>
<path d="M346.60,246.82L351.60,251.82L346.60,256.82L341.60,251.82Z" fill="#000"/>
<path d="M366.58,255.14L371.58,260.14L366.58,265.14L361.58,260.14Z" fill="#000"/>
<path d="M386.55,258.91L391.55,263.91L386.55,268.91L381.55,263.91Z" fill="#000"/>
<path d="M406.52,317.77L411.52,322.77L406.52,327.77L401.52,322.77Z" fill="#000"/>
<path d="M426.50,352.79L431.50,357.79L426.50,362.79L421.50,357.79Z" fill="#000"/>
<path d="M446.48,362.14L451.48,367.14L446.48,372.14L441.48,367.14Z" fill="#000"/>
<path d="M466.45,364.08L471.45,369.08L466.45,374.08L461.45,369.08Z" fill="#000"/>
<path d="M486.42,364.08L491.42,369.08L486.42,374.08L481.42,369.08Z" fill="#000"/>
<path d="M506.40,364.08L511.40,369.08L506.40,374.08L501.40,369.08Z" fill="#000"/>
<path d="M526.38,364.08L531.38,369.08L526.38,374.08L521.38,369.08Z" fill="#000"/>
<path d="M546.35,364.08L551.35,369.08L546.35,374.08L541.35,369.08Z" fill="#000"/>
<path d="M566.32,365.22L571.32,370.22L566.32,375.22L561.32,370.22Z" fill="#000"/>
<path d="M586.30,366.36L591.30,371.36L586.30,376.36L581.30,371.36Z" fill="#000"/>
<path d="M343.00,307.31L350.20,314.51M343.00,314.51L350.20,307.31" stroke="#111" stroke-width="1" fill="none"/>
<path d="M362.98,308.33L370.18,315.53M362.98,315.53L370.18,308.33" stroke="#111" stroke-width="1" fill="none"/>
<path d="M382.95,313.24L390.15,320.44M382.95,320.44L390.15,313.24" stroke="#111" stroke-width="1" fill="none"/>
<path d="M402.92,308.33L410.12,315.53M402.92,315.53L410.12,308.33" stroke="#111" stroke-width="1" fill="none"/>
<path d="M422.90,317.23L430.10,324.43M422.90,324.43L430.10,317.23" stroke="#111" stroke-width="1" fill="none"/>
<path d="M442.88,337.65L450.08,344.85M442.88,344.85L450.08,337.65" stroke="#111" stroke-width="1" fill="none"/>
<path d="M462.85,346.55L470.05,353.75M462.85,353.75L470.05,346.55" stroke="#111" stroke-width="1" fill="none"/>
<path d="M482.82,362.06L490.02,369.26M482.82,369.26L490.02,362.06" stroke="#111" stroke-width="1" fill="none"/>
<path d="M502.80,363.20L510.00,370.40M502.80,370.40L510.00,363.20" stroke="#111" stroke-width="1" fill="none"/>
<path d="M522.77,364.34L529.98,371.54M522.77,371.54L529.98,364.34" stroke="#111" stroke-width="1" fill="none"/>
<path d="M542.75,365.48L549.95,372.68M542.75,372.68L549.95,365.48" stroke="#111" stroke-width="1" fill="none"/>
<path d="M562.72,365.48L569.92,372.68M562.72,372.68L569.92,365.48" stroke="#111" stroke-width="1" fill="none"/>
<path d="M582.70,366.62L589.90,373.82M582.70,373.82L589.90,366.62" stroke="#111" stroke-width="1" fill="none"/>
<path d="M346.60,237.90V397.60H586.30" stroke="#111" stroke-width="1.3" fill="none"/>
<rect x="170.1" y="444.2" width="300.3" height="55.9" fill="none" stroke="#555" stroke-width="1.2"/>
<path d="M181.2,453.2H203.5" stroke="#111" stroke-width="1.4"/>
<circle cx="192.5" cy="453.2" r="4.2" fill="#fff" stroke="#222" stroke-width="0.9"/>
<text x="215.3" y="456.00" font-size="9" font-weight="bold" letter-spacing="0.5">C1 Fruit waste</text>
<path d="M181.2,464.1H203.5" stroke="#111" stroke-width="1.4"/>
<rect x="188.2" y="459.6" width="8.6" height="9" fill="#fff" stroke="#222" stroke-width="0.9"/>
<text x="215.3" y="466.90" font-size="9" font-weight="bold" letter-spacing="0.5">C2 Vegetable waste</text>
<path d="M181.2,474.6H203.5" stroke="#111" stroke-width="1.4"/>
<path d="M192.5,469.6 L197.5,478.3 L187.5,478.3 Z" fill="#fff" stroke="#222" stroke-width="0.9"/>
<text x="215.3" y="477.40" font-size="9" font-weight="bold" letter-spacing="0.5">C3 Leaves</text>
<path d="M357.8,454.5H379.9" stroke="#111" stroke-width="1.4"/>
<rect x="364.70000000000005" y="450.1" width="8.8" height="8.8" fill="#000"/>
<text x="392.1" y="457.40" font-size="9" font-weight="bold" letter-spacing="0.5">C4 Hay</text>
<path d="M357.8,465.4H379.9" stroke="#111" stroke-width="1.4"/>
<path d="M369.1,461.5V469.29999999999995M365.72,463.45L372.48,467.35M365.72,467.35L372.48,463.45" stroke="#111" stroke-width="0.9" fill="none"/>
<text x="392.1" y="468.30" font-size="9" font-weight="bold" letter-spacing="0.5">C5 Paper waste</text>
<path d="M357.8,476.3H379.9" stroke="#111" stroke-width="1.4"/>
<path d="M369.1,469.8L375.6,476.3L369.1,482.8L362.6,476.3Z" fill="#000"/>
<text x="392.1" y="479.20" font-size="9" font-weight="bold" letter-spacing="0.5">C6 Wheat straw</text>
<path d="M357.8,487.3H379.9" stroke="#111" stroke-width="1.4"/>
<path d="M364.3,482.5L373.90000000000003,492.1M364.3,492.1L373.90000000000003,482.5" stroke="#111" stroke-width="1" fill="none"/>
<text x="392.1" y="490.20" font-size="9" font-weight="bold" letter-spacing="0.5">C7 Husk</text>
</svg>
</body></html>
